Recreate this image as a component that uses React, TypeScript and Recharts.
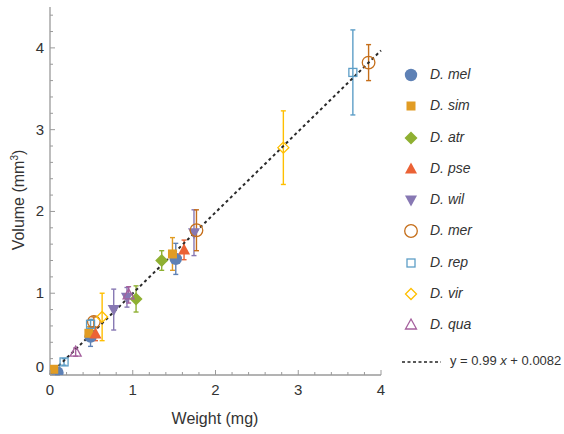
import React from 'react'
import { ComposedChart, Scatter, ErrorBar, XAxis, YAxis, ReferenceLine } from 'recharts'

// species order as in the legend
const species = ['D. mel', 'D. sim', 'D. atr', 'D. pse', 'D. wil', 'D. mer', 'D. rep', 'D. vir', 'D. qua']
const colors = ['#5E81B5', '#E19C24', '#8FB032', '#EB6235', '#8778B3', '#C56E1A', '#5D9EC7', '#FFBF00', '#A5609D']
const shapes = ['circle', 'square', 'diamond', 'triangle', 'triangleDown', 'openCircle', 'openSquare', 'openDiamond', 'openTriangle']

// weight (mg), volume (mm3), volume error
const weights = [
  [0.09, 0.49, 1.52],
  [0.045, 0.47, 1.48],
  [1.04, 1.35],
  [0.55, 1.62],
  [0.77, 0.93, 1.74],
  [0.53, 1.77, 3.85],
  [0.17, 0.49, 3.66],
  [0.63, 2.82],
  [0.31, 0.95],
]
const volumes = [
  [0.03, 0.47, 1.42],
  [0.07, 0.51, 1.48],
  [0.93, 1.4],
  [0.5, 1.53],
  [0.8, 0.95, 1.74],
  [0.65, 1.77, 3.82],
  [0.16, 0.62, 3.7],
  [0.71, 2.78],
  [0.28, 0.98],
]
const errors = [
  [0.03, 0.12, 0.19],
  [0.04, 0.08, 0.2],
  [0.16, 0.12],
  [0.08, 0.12],
  [0.25, 0.12, 0.28],
  [0.06, 0.25, 0.22],
  [0.04, 0.06, 0.52],
  [0.29, 0.45],
  [0.05, 0.1],
]

const fitSlope = 0.99
const fitIntercept = 0.0082
const fitRange = [0, 4]

const majorTicks = [0, 1, 2, 3, 4]
const xTicks = [0, 0.2, 0.4, 0.6, 0.8, 1, 1.2, 1.4, 1.6, 1.8, 2, 2.2, 2.4, 2.6, 2.8, 3, 3.2, 3.4, 3.6, 3.8, 4]
const yTicks = [0, 0.2, 0.4, 0.6, 0.8, 1, 1.2, 1.4, 1.6, 1.8, 2, 2.2, 2.4, 2.6, 2.8, 3, 3.2, 3.4, 3.6, 3.8, 4, 4.2, 4.4]

const FONT = '"Liberation Sans", Arial, sans-serif'
const AXIS = '#9a9a9a'

function Marker({ type, cx, cy, color }: { type: string; cx: number; cy: number; color: string }) {
  const sw = 1.3
  switch (type) {
    case 'circle':
      return <circle cx={cx} cy={cy} r={6.2} fill={color} />
    case 'square':
      return <rect x={cx - 4.5} y={cy - 4.5} width={9} height={9} fill={color} />
    case 'diamond':
      return <polygon points={`${cx},${cy - 6.5} ${cx + 6.5},${cy} ${cx},${cy + 6.5} ${cx - 6.5},${cy}`} fill={color} />
    case 'triangle':
      return <polygon points={`${cx},${cy - 6.5} ${cx + 6},${cy + 4.5} ${cx - 6},${cy + 4.5}`} fill={color} />
    case 'triangleDown':
      return <polygon points={`${cx},${cy + 6.5} ${cx + 6},${cy - 4.5} ${cx - 6},${cy - 4.5}`} fill={color} />
    case 'openCircle':
      return <circle cx={cx} cy={cy} r={6.3} fill="none" stroke={color} strokeWidth={sw} />
    case 'openSquare':
      return <rect x={cx - 4} y={cy - 4} width={8} height={8} fill="none" stroke={color} strokeWidth={sw} />
    case 'openDiamond':
      return <polygon points={`${cx},${cy - 5.5} ${cx + 5.5},${cy} ${cx},${cy + 5.5} ${cx - 5.5},${cy}`} fill="none" stroke={color} strokeWidth={sw} />
    default:
      return <polygon points={`${cx},${cy - 6} ${cx + 5.5},${cy + 4} ${cx - 5.5},${cy + 4}`} fill="none" stroke={color} strokeWidth={sw} />
  }
}

const YTick = (props: any) => {
  const { x, y, payload } = props
  const ax = x + 6
  const major = majorTicks.includes(payload.value)
  return (
    <g>
      <line x1={ax} x2={ax + (major ? 5 : 3)} y1={y} y2={y} stroke={AXIS} strokeWidth={1} />
      {major && (
        <text x={x} y={payload.value === 0 ? y - 8 : y} dy={5} textAnchor="end" fontSize={15} fontFamily={FONT} fill="#333">
          {payload.value}
        </text>
      )}
    </g>
  )
}

const XTick = (props: any) => {
  const { x, y, payload } = props
  const ay = y - 6
  const major = majorTicks.includes(payload.value)
  return (
    <g>
      <line x1={x} x2={x} y1={ay} y2={ay - (major ? 5 : 3)} stroke={AXIS} strokeWidth={1} />
      {major && (
        <text x={x} y={y} dy={14} textAnchor="middle" fontSize={15} fontFamily={FONT} fill="#333">
          {payload.value}
        </text>
      )}
    </g>
  )
}

function Legend() {
  return (
    <div style={{ position: 'absolute', left: 0, top: 0, fontFamily: FONT }}>
      {species.map((name, i) => (
        <div key={name} style={{ position: 'absolute', left: 400, top: 75 + i * 31.25 - 10, width: 120, height: 20 }}>
          <svg width={22} height={20} style={{ position: 'absolute', left: 0, top: 0 }}>
            <Marker type={shapes[i]} cx={11} cy={10} color={colors[i]} />
          </svg>
          <span style={{ position: 'absolute', left: 30, top: 1, fontSize: 14, fontStyle: 'italic', color: '#333', whiteSpace: 'nowrap' }}>
            {name}
          </span>
        </div>
      ))}
      <div style={{ position: 'absolute', left: 400, top: 352, width: 170, height: 20 }}>
        <svg width={44} height={20} style={{ position: 'absolute', left: 0, top: 0 }}>
          <line x1={2} x2={41} y1={10} y2={10} stroke="#222" strokeWidth={1.5} strokeDasharray="3 2.5" />
        </svg>
        <span style={{ position: 'absolute', left: 50, top: 1, fontSize: 13, color: '#333', whiteSpace: 'nowrap' }}>
          y = 0.99 <i>x</i> + 0.0082
        </span>
      </div>
    </div>
  )
}

export default function App() {
  const series = species.map((name, i) =>
    weights[i].map((w, j) => ({ x: w, y: volumes[i][j], e: errors[i][j] }))
  )
  const fitSegment = fitRange.map((x) => ({ x, y: fitSlope * x + fitIntercept }))

  return (
    <div style={{ position: 'absolute', left: 0, top: 0, width: 564, height: 434, background: '#fff' }}>
      <ComposedChart width={564} height={434} margin={{ top: 7, right: 183, bottom: 19, left: 10 }}>
        <XAxis
          type="number"
          dataKey="x"
          domain={[0, 4]}
          ticks={xTicks}
          interval={0}
          tickSize={0}
          tickMargin={6}
          tick={<XTick />}
          height={40}
          stroke={AXIS}
          strokeWidth={1.3}
          allowDataOverflow
        />
        <YAxis
          type="number"
          dataKey="y"
          domain={[0, 4.5]}
          ticks={yTicks}
          interval={0}
          tickSize={0}
          tickMargin={6}
          tick={<YTick />}
          width={40}
          stroke={AXIS}
          strokeWidth={1.3}
          allowDataOverflow
        />
        {series.map((data, i) => (
          <Scatter
            key={species[i]}
            name={species[i]}
            data={data}
            fill={colors[i]}
            isAnimationActive={false}
            shape={(p: any) => <Marker type={shapes[i]} cx={p.cx} cy={p.cy} color={colors[i]} />}
          >
            <ErrorBar dataKey="e" direction="y" width={2.5} stroke={colors[i]} strokeWidth={1.4} />
          </Scatter>
        ))}
        <ReferenceLine
          segment={fitSegment}
          stroke="#2a2a2a"
          strokeWidth={2}
          strokeDasharray="3 3"
          ifOverflow="visible"
        />
        <text
          transform="translate(24,200) rotate(-90)"
          textAnchor="middle"
          fontSize={16}
          fontFamily={FONT}
          fill="#333"
        >
          Volume (mm<tspan dy={-6} fontSize={10}>3</tspan><tspan dy={6}>)</tspan>
        </text>
        <text x={215} y={424} textAnchor="middle" fontSize={16} fontFamily={FONT} fill="#333">
          Weight (mg)
        </text>
      </ComposedChart>
      <Legend />
    </div>
  )
}
